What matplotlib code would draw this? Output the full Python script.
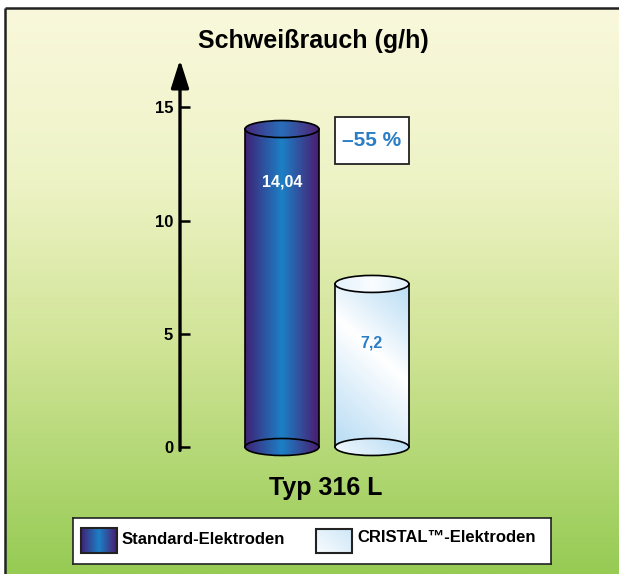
import numpy as np
import matplotlib.pyplot as plt
from matplotlib.patches import Ellipse, Rectangle

plt.rcParams['font.family'] = ['Liberation Sans', 'DejaVu Sans']
plt.rcParams['font.weight'] = 'bold'

# data
title = 'Schweißrauch (g/h)'
categories = ['Standard-Elektroden', 'CRISTAL™-Elektroden']
values = [14.04, 7.2]
value_labels = ['14,04', '7,2']
yticks = [0, 5, 10, 15]
group_label = 'Typ 316 L'
reduction_label = '–55 %'

W, H = 619, 574
fig = plt.figure(figsize=(W / 100, H / 100), dpi=100)


def px(x0, y0, x1, y1):
    # pixel box (origin top left) -> figure rect
    return [x0 / W, 1 - y1 / H, (x1 - x0) / W, (y1 - y0) / H]


def ramp(stops, n):
    # stops: list of (pos, (r, g, b)) -> n x 3 array in 0..1
    pos = np.array([s[0] for s in stops])
    cols = np.array([s[1] for s in stops], float) / 255
    t = np.linspace(0, 1, n)
    return np.stack([np.interp(t, pos, cols[:, i]) for i in range(3)], axis=1)


# background with gradient and frame
bg = fig.add_axes([0, 0, 1, 1], zorder=0)
bg.axis('off')
vgrad = ramp([(0, (249, 248, 220)), (0.3, (238, 243, 198)),
              (0.6, (208, 228, 150)), (1, (150, 203, 84))], 256)
bg.imshow(vgrad[:, None, :], extent=[5, W, H, 8], aspect='auto',
          interpolation='bilinear')
bg.plot([5, W], [8, 8], color='#222222', lw=1.8, solid_capstyle='butt')
bg.plot([5, 5], [8, H], color='#222222', lw=1.8, solid_capstyle='butt')
bg.set_xlim(0, W)
bg.set_ylim(H, 0)

# gradients
dark_h = ramp([(0, (64, 34, 118)), (0.5, (28, 128, 198)),
               (1, (74, 28, 112))], 200)[None, :, :]
dark_top = ramp([(0, (70, 40, 125)), (0.5, (40, 110, 185)),
                 (1, (80, 32, 115))], 200)[None, :, :]


def light_diag(nx, ny, wpx, hpx):
    xs = np.linspace(0, wpx, nx)[None, :]
    ys = np.linspace(0, hpx, ny)[:, None]
    t = ys - 0.88 * xs
    c = np.interp(t, [-70, -10, 33, 90, 165], [0, 0.55, 1, 0.55, 0])
    blue = np.array([182, 219, 244]) / 255
    return blue[None, None, :] + (1 - blue)[None, None, :] * c[:, :, None]


light_body = light_diag(80, 180, 74, 163)
light_top = ramp([(0, (228, 242, 252)), (0.5, (250, 253, 255)),
                  (1, (225, 240, 250))], 100)[None, :, :]
light_bot = light_diag(80, 20, 74, 17)

# main axes
ymin = -0.7
ppu = (447 - 62) / 17
ax = fig.add_axes(px(180, 62, 560, 447 - ymin * ppu), zorder=1)
ax.patch.set_alpha(0)
xl = (-1.133, 3.089)
bw = 0.822
eh = 17 / ppu
xpos = [0, 1]
body_imgs = [dark_h, light_body]
top_imgs = [dark_top, light_top]
bot_imgs = [dark_h, light_bot]

for xc, v, bi, ti, bo in zip(xpos, values, body_imgs, top_imgs, bot_imgs):
    x0, x1 = xc - bw / 2, xc + bw / 2
    ax.imshow(bi, extent=[x0, x1, 0, v], aspect='auto', zorder=2,
              interpolation='bilinear')
    for yc, img, z in [(0, bo, 3), (v, ti, 4)]:
        el = Ellipse((xc, yc), bw, eh, fc='none', ec='black', lw=1.2,
                     zorder=z + 0.5)
        ax.add_patch(el)
        im = ax.imshow(img, extent=[x0, x1, yc - eh / 2, yc + eh / 2],
                       aspect='auto', zorder=z, interpolation='bilinear')
        im.set_clip_path(el)
    ax.plot([x0, x0], [0, v], color='black', lw=1.2, zorder=5)
    ax.plot([x1, x1], [0, v], color='black', lw=1.2, zorder=5)

ax.text(xpos[0], 11.7, value_labels[0], color='white', fontsize=11.5,
        ha='center', va='center', zorder=6)
ax.text(xpos[1], 4.6, value_labels[1], color='#2b7dc5', fontsize=11.5,
        ha='center', va='center', zorder=6)

# reduction box
ax.add_patch(Rectangle((xpos[1] - bw / 2, 12.49), bw, 2.08, fc='white',
                       ec='#222222', lw=1.3, zorder=6))
ax.text(xpos[1], 13.55, reduction_label, color='#2b7dc5', fontsize=15,
        ha='center', va='center', zorder=7)

# axis with arrow
ax.annotate('', xy=(xl[0], 17.1), xytext=(xl[0], -0.15),
            arrowprops=dict(arrowstyle='-|>,head_length=0.85,head_width=0.27',
                            lw=2.4, color='black', mutation_scale=20,
                            shrinkA=0, shrinkB=0),
            annotation_clip=False, zorder=7)
for s in ax.spines.values():
    s.set_visible(False)
ax.set_yticks(yticks)
ax.set_yticklabels([str(t) for t in yticks])
ax.tick_params(axis='y', direction='in', length=7.5, width=1.8, pad=5,
               labelsize=12)
ax.set_xticks([])
ax.set_xlim(*xl)
ax.set_ylim(ymin, 17)

fig.text(313 / W, 1 - 41 / H, title, fontsize=18, ha='center', va='center')
fig.text(326 / W, 1 - 488 / H, group_label, fontsize=18, ha='center',
         va='center')

# legend box
lg = fig.add_axes(px(73, 518, 551, 564), zorder=2)
lg.set_xticks([])
lg.set_yticks([])
for s in lg.spines.values():
    s.set_linewidth(1.2)
    s.set_color('#222222')
leg_imgs = [dark_h, light_diag(40, 30, 36, 25)]
leg_boxes = [(81, 528, 117, 553), (316, 529, 352, 553)]
leg_text = [(122, 540), (357, 537)]
for img, (a, b, c, d), (tx, ty), lab in zip(leg_imgs, leg_boxes, leg_text,
                                            categories):
    lg.imshow(img, extent=[a, c, d, b], aspect='auto',
              interpolation='bilinear')
    lg.add_patch(Rectangle((a, b), c - a, d - b, fc='none', ec='#222222',
                           lw=1.5))
    lg.text(tx, ty, lab, fontsize=12, ha='left', va='center')
lg.set_xlim(73, 551)
lg.set_ylim(564, 518)

fig.savefig('out.png', dpi=100)
